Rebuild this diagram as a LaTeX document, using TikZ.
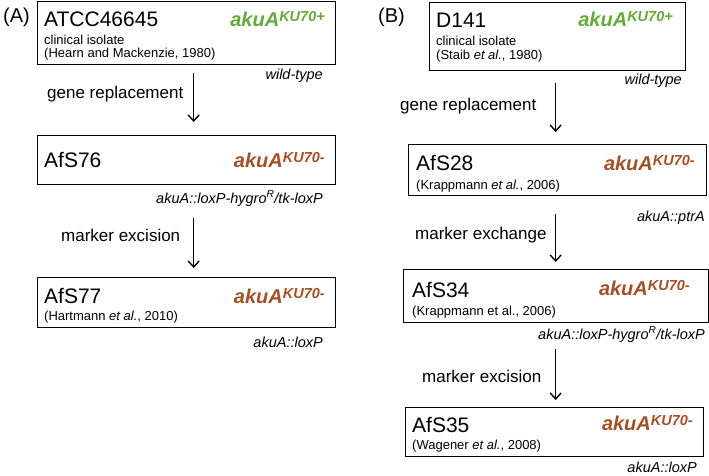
\documentclass[tikz,border=0pt]{standalone}
\usepackage{fontspec}
\setmainfont{Liberation Sans}
\usetikzlibrary{arrows.meta}
\definecolor{kugreen}{RGB}{98,170,58}
\definecolor{kubrown}{RGB}{162,80,38}
\newcommand{\akuA}[1]{akuA\raisebox{5pt}{\fontsize{14.5}{16}\selectfont KU70#1}}
\tikzset{
  strainbox/.style={draw,line width=1.3pt,inner sep=0pt,anchor=north west},
  strain/.style={anchor=base west,inner sep=0pt,font=\fontsize{21}{24}\selectfont},
  origin/.style={anchor=base west,inner sep=0pt,font=\fontsize{13}{15}\selectfont},
  ku/.style={anchor=base east,inner sep=0pt,font=\fontsize{20}{24}\selectfont\bfseries\itshape},
  geno/.style={anchor=base east,inner sep=0pt,font=\fontsize{14.5}{17}\selectfont\itshape},
  stepname/.style={anchor=base west,inner sep=0pt,font=\fontsize{17}{20}\selectfont},
  panel/.style={anchor=base west,inner sep=0pt,font=\fontsize{20}{24}\selectfont},
  flow/.style={->,line width=1.4pt},
}
\begin{document}
\begin{tikzpicture}[x=1pt,y=-1pt,>={Straight Barb[length=6pt,width=11pt]}]
  \useasboundingbox (0,0) rectangle (709,476);
  % (A)
  \node[panel] (pa) at (3,23) {(A)};
  \node[strainbox,minimum width=298,minimum height=63] (a1) at (37,1) {};
  \node[strain] (a1n) at (44,27) {ATCC46645};
  \node[ku,kugreen] (a1k) at (325,27) {\akuA{+}};
  \node[origin] (a1o) at (44,45) {clinical isolate};
  \node[origin] (a1r) at (44,58) {(Hearn and Mackenzie, 1980)};
  \node[geno] (a1g) at (323,80) {wild-type};
  \node[stepname] (a12) at (47,99) {gene replacement};

  \node[strainbox,minimum width=298,minimum height=49] (a2) at (37,135) {};
  \node[strain] (a2n) at (44,167) {AfS76};
  \node[ku,kubrown] (a2k) at (325,167) {\akuA{-}};
  \node[geno] (a2g) at (323,203) {akuA::loxP-hygro\textsuperscript{R}/tk-loxP};
  \node[stepname] (a23) at (61,241) {marker excision};

  \node[strainbox,minimum width=298,minimum height=50] (a3) at (37,277) {};
  \node[strain] (a3n) at (44,303) {AfS77};
  \node[ku,kubrown] (a3k) at (325,303) {\akuA{-}};
  \node[origin] (a3r) at (44,320) {(Hartmann \textit{et al.}, 2010)};
  \node[geno] (a3g) at (323,347) {akuA::loxP};

  \draw[flow,shorten <=8pt,shorten >=13pt] ([xshift=7]a1.south) -- ([xshift=7]a2.north);
  \draw[flow,shorten <=33pt,shorten >=9pt] ([xshift=7]a2.south) -- ([xshift=7]a3.north);

  % (B)
  \node[panel] (pb) at (378,23) {(B)};
  \node[strainbox,minimum width=256,minimum height=68] (b1) at (429,2) {};
  \node[strain] (b1n) at (436,28) {D141};
  \node[ku,kugreen] (b1k) at (673,27) {\akuA{+}};
  \node[origin] (b1o) at (436,46) {clinical isolate};
  \node[origin] (b1r) at (436,60) {(Staib \textit{et al.}, 1980)};
  \node[geno] (b1g) at (682,85) {wild-type};
  \node[stepname] (b12) at (400,111) {gene replacement};

  \node[strainbox,minimum width=298,minimum height=51] (b2) at (408,144) {};
  \node[strain] (b2n) at (416,170) {AfS28};
  \node[ku,kubrown] (b2k) at (695,170) {\akuA{-}};
  \node[origin] (b2r) at (416,189) {(Krappmann \textit{et al.}, 2006)};
  \node[geno] (b2g) at (705,221) {akuA::ptrA};
  \node[stepname] (b23) at (415,239) {marker exchange};

  \node[strainbox,minimum width=305,minimum height=53] (b3) at (403,269) {};
  \node[strain] (b3n) at (412,297) {AfS34};
  \node[ku,kubrown] (b3k) at (690,295) {\akuA{-}};
  \node[origin] (b3r) at (412,315) {(Krappmann et al., 2006)};
  \node[geno] (b3g) at (705,339) {akuA::loxP-hygro\textsuperscript{R}/tk-loxP};
  \node[stepname] (b34) at (422,382) {marker excision};

  \node[strainbox,minimum width=298,minimum height=49] (b4) at (405,407) {};
  \node[strain] (b4n) at (412,432) {AfS35};
  \node[ku,kubrown] (b4k) at (693,430) {\akuA{-}};
  \node[origin] (b4r) at (412,449) {(Wagener \textit{et al.}, 2008)};
  \node[geno] (b4g) at (697,472) {akuA::loxP};

  \draw[flow,shorten <=12pt,shorten >=12pt] ([xshift=-2]b1.south) -- ([xshift=-2]b2.north);
  \draw[flow,shorten <=18pt,shorten >=7pt] ([xshift=-2]b2.south) -- ([xshift=-0.5]b3.north);
  \draw[flow,shorten <=26pt,shorten >=7pt] ([xshift=-0.5]b3.south) -- ([xshift=1]b4.north);
\end{tikzpicture}
\end{document}
